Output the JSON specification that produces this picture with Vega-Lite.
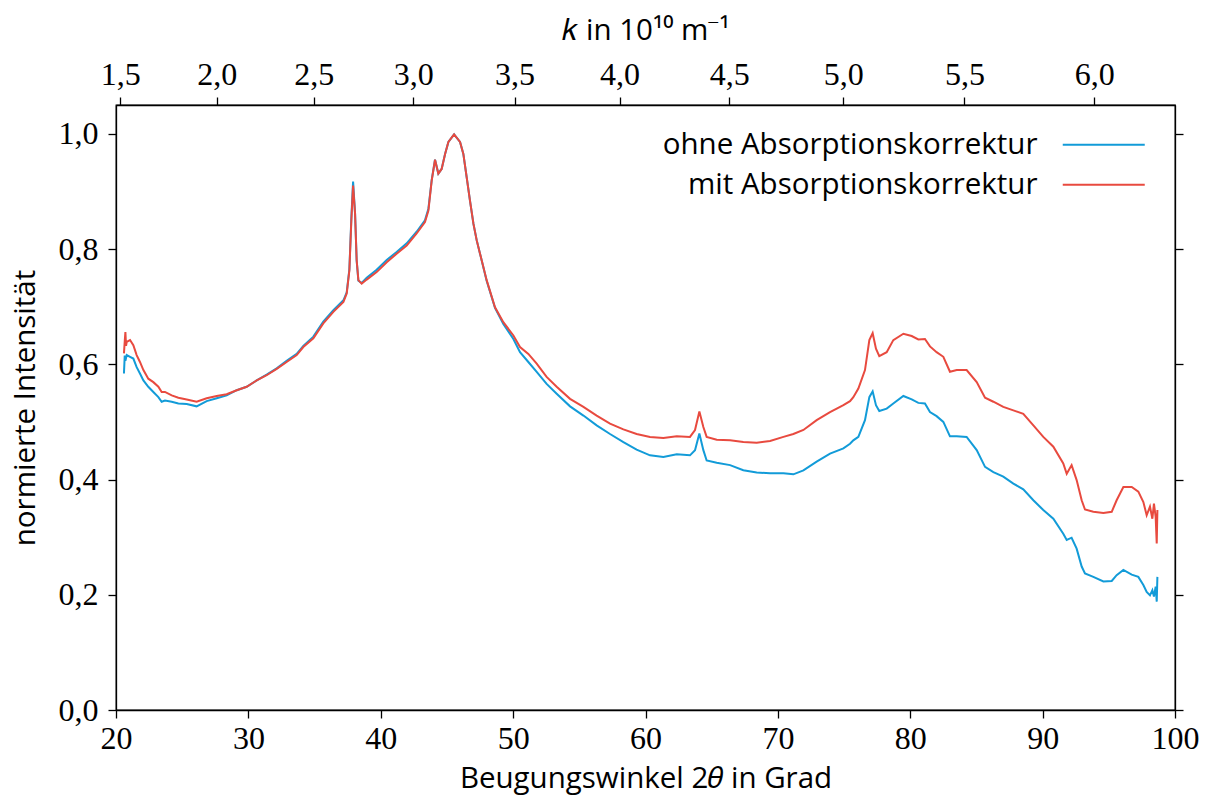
{
 "$schema": "https://vega.github.io/schema/vega-lite/v6.json",
 "width": 1059, "height": 605,
 "autosize": {"type": "none"},
 "padding": {"left": 116, "top": 105, "right": 34, "bottom": 89},
 "background": "white",
 "config": {
  "view": {"stroke": "black", "strokeWidth": 1.3},
  "axis": {"grid": false, "domainColor": "black", "tickColor": "black", "labelColor": "black", "titleColor": "black",
           "labelFont": "Liberation Serif", "labelFontSize": 32, "titleFont": "Open Sans", "titleFontSize": 29.5,
           "titleFontWeight": "normal", "tickSize": 8, "domainWidth": 1.3, "tickWidth": 1.3, "labelFlush": false}
 },
 "data": {"values": [
  {"s":"ohne","t":20.60,"v":0.584},{"s":"ohne","t":20.66,"v":0.615},{"s":"ohne","t":20.71,"v":0.606},{"s":"ohne","t":20.81,"v":0.616},
  {"s":"ohne","t":21.06,"v":0.613},{"s":"ohne","t":21.31,"v":0.610},{"s":"ohne","t":21.56,"v":0.595},{"s":"ohne","t":21.81,"v":0.584},
  {"s":"ohne","t":22.07,"v":0.572},{"s":"ohne","t":22.44,"v":0.561},{"s":"ohne","t":22.82,"v":0.552},{"s":"ohne","t":23.20,"v":0.543},
  {"s":"ohne","t":23.45,"v":0.535},{"s":"ohne","t":23.70,"v":0.537},{"s":"ohne","t":24.21,"v":0.535},{"s":"ohne","t":24.71,"v":0.532},
  {"s":"ohne","t":25.34,"v":0.531},{"s":"ohne","t":26.09,"v":0.527},{"s":"ohne","t":26.85,"v":0.536},{"s":"ohne","t":27.61,"v":0.541},
  {"s":"ohne","t":28.36,"v":0.546},{"s":"ohne","t":29.12,"v":0.555},{"s":"ohne","t":29.87,"v":0.561},{"s":"ohne","t":30.63,"v":0.572},
  {"s":"ohne","t":31.38,"v":0.582},{"s":"ohne","t":32.14,"v":0.593},{"s":"ohne","t":32.89,"v":0.606},{"s":"ohne","t":33.65,"v":0.618},
  {"s":"ohne","t":34.15,"v":0.632},{"s":"ohne","t":34.91,"v":0.648},{"s":"ohne","t":35.66,"v":0.674},{"s":"ohne","t":36.42,"v":0.694},
  {"s":"ohne","t":37.18,"v":0.711},{"s":"ohne","t":37.43,"v":0.725},{"s":"ohne","t":37.63,"v":0.765},{"s":"ohne","t":37.78,"v":0.855},
  {"s":"ohne","t":37.91,"v":0.917},{"s":"ohne","t":38.06,"v":0.862},{"s":"ohne","t":38.18,"v":0.780},{"s":"ohne","t":38.31,"v":0.745},
  {"s":"ohne","t":38.56,"v":0.741},{"s":"ohne","t":38.94,"v":0.750},{"s":"ohne","t":39.69,"v":0.764},{"s":"ohne","t":40.45,"v":0.781},
  {"s":"ohne","t":41.20,"v":0.795},{"s":"ohne","t":41.96,"v":0.810},{"s":"ohne","t":42.71,"v":0.830},{"s":"ohne","t":43.34,"v":0.850},
  {"s":"ohne","t":43.60,"v":0.870},{"s":"ohne","t":43.85,"v":0.920},{"s":"ohne","t":44.10,"v":0.955},{"s":"ohne","t":44.35,"v":0.931},
  {"s":"ohne","t":44.60,"v":0.939},{"s":"ohne","t":44.86,"v":0.965},{"s":"ohne","t":45.11,"v":0.986},{"s":"ohne","t":45.54,"v":0.999},
  {"s":"ohne","t":45.99,"v":0.986},{"s":"ohne","t":46.24,"v":0.965},{"s":"ohne","t":46.49,"v":0.925},{"s":"ohne","t":46.74,"v":0.884},
  {"s":"ohne","t":47.00,"v":0.844},{"s":"ohne","t":47.25,"v":0.815},{"s":"ohne","t":47.50,"v":0.792},{"s":"ohne","t":48.00,"v":0.745},
  {"s":"ohne","t":48.63,"v":0.698},{"s":"ohne","t":49.26,"v":0.670},{"s":"ohne","t":50.02,"v":0.644},{"s":"ohne","t":50.52,"v":0.621},
  {"s":"ohne","t":51.15,"v":0.604},{"s":"ohne","t":51.78,"v":0.587},{"s":"ohne","t":52.53,"v":0.566},{"s":"ohne","t":53.29,"v":0.549},
  {"s":"ohne","t":54.30,"v":0.527},{"s":"ohne","t":55.31,"v":0.511},{"s":"ohne","t":56.31,"v":0.494},{"s":"ohne","t":57.32,"v":0.479},
  {"s":"ohne","t":58.33,"v":0.465},{"s":"ohne","t":59.33,"v":0.452},{"s":"ohne","t":60.34,"v":0.442},{"s":"ohne","t":61.35,"v":0.439},
  {"s":"ohne","t":62.36,"v":0.444},{"s":"ohne","t":63.36,"v":0.442},{"s":"ohne","t":63.74,"v":0.451},{"s":"ohne","t":64.07,"v":0.480},
  {"s":"ohne","t":64.37,"v":0.451},{"s":"ohne","t":64.62,"v":0.433},{"s":"ohne","t":65.38,"v":0.429},{"s":"ohne","t":66.39,"v":0.425},
  {"s":"ohne","t":67.39,"v":0.416},{"s":"ohne","t":68.40,"v":0.412},{"s":"ohne","t":69.41,"v":0.411},{"s":"ohne","t":70.42,"v":0.411},
  {"s":"ohne","t":71.17,"v":0.409},{"s":"ohne","t":71.93,"v":0.416},{"s":"ohne","t":72.93,"v":0.431},{"s":"ohne","t":73.94,"v":0.445},
  {"s":"ohne","t":74.95,"v":0.454},{"s":"ohne","t":75.45,"v":0.462},{"s":"ohne","t":75.70,"v":0.468},{"s":"ohne","t":76.08,"v":0.474},
  {"s":"ohne","t":76.58,"v":0.503},{"s":"ohne","t":76.91,"v":0.543},{"s":"ohne","t":77.16,"v":0.553},{"s":"ohne","t":77.41,"v":0.529},
  {"s":"ohne","t":77.66,"v":0.519},{"s":"ohne","t":78.22,"v":0.523},{"s":"ohne","t":78.72,"v":0.532},{"s":"ohne","t":79.48,"v":0.545},
  {"s":"ohne","t":80.11,"v":0.539},{"s":"ohne","t":80.61,"v":0.533},{"s":"ohne","t":81.11,"v":0.532},{"s":"ohne","t":81.49,"v":0.517},
  {"s":"ohne","t":81.99,"v":0.510},{"s":"ohne","t":82.50,"v":0.500},{"s":"ohne","t":83.00,"v":0.475},{"s":"ohne","t":83.51,"v":0.475},
  {"s":"ohne","t":84.26,"v":0.474},{"s":"ohne","t":85.02,"v":0.451},{"s":"ohne","t":85.65,"v":0.422},{"s":"ohne","t":86.28,"v":0.413},
  {"s":"ohne","t":87.03,"v":0.405},{"s":"ohne","t":87.79,"v":0.393},{"s":"ohne","t":88.54,"v":0.383},{"s":"ohne","t":89.30,"v":0.364},
  {"s":"ohne","t":90.05,"v":0.347},{"s":"ohne","t":90.81,"v":0.332},{"s":"ohne","t":91.56,"v":0.306},{"s":"ohne","t":91.82,"v":0.295},
  {"s":"ohne","t":92.19,"v":0.299},{"s":"ohne","t":92.57,"v":0.280},{"s":"ohne","t":92.95,"v":0.249},{"s":"ohne","t":93.20,"v":0.237},
  {"s":"ohne","t":93.83,"v":0.231},{"s":"ohne","t":94.59,"v":0.223},{"s":"ohne","t":95.22,"v":0.224},{"s":"ohne","t":95.59,"v":0.234},
  {"s":"ohne","t":96.10,"v":0.243},{"s":"ohne","t":96.73,"v":0.235},{"s":"ohne","t":97.23,"v":0.231},{"s":"ohne","t":97.61,"v":0.217},
  {"s":"ohne","t":97.86,"v":0.205},{"s":"ohne","t":98.11,"v":0.199},{"s":"ohne","t":98.29,"v":0.208},{"s":"ohne","t":98.41,"v":0.197},
  {"s":"ohne","t":98.54,"v":0.214},{"s":"ohne","t":98.62,"v":0.188},{"s":"ohne","t":98.67,"v":0.231},
  {"s":"mit","t":20.60,"v":0.619},{"s":"mit","t":20.66,"v":0.640},{"s":"mit","t":20.71,"v":0.656},{"s":"mit","t":20.76,"v":0.632},
  {"s":"mit","t":20.81,"v":0.639},{"s":"mit","t":21.06,"v":0.642},{"s":"mit","t":21.31,"v":0.633},{"s":"mit","t":21.56,"v":0.616},
  {"s":"mit","t":21.81,"v":0.604},{"s":"mit","t":22.07,"v":0.590},{"s":"mit","t":22.44,"v":0.575},{"s":"mit","t":22.82,"v":0.569},
  {"s":"mit","t":23.20,"v":0.561},{"s":"mit","t":23.45,"v":0.552},{"s":"mit","t":23.70,"v":0.552},{"s":"mit","t":24.21,"v":0.546},
  {"s":"mit","t":24.71,"v":0.542},{"s":"mit","t":25.34,"v":0.539},{"s":"mit","t":26.09,"v":0.535},{"s":"mit","t":26.85,"v":0.541},
  {"s":"mit","t":27.61,"v":0.545},{"s":"mit","t":28.36,"v":0.548},{"s":"mit","t":29.12,"v":0.555},{"s":"mit","t":29.87,"v":0.561},
  {"s":"mit","t":30.63,"v":0.572},{"s":"mit","t":31.38,"v":0.581},{"s":"mit","t":32.14,"v":0.592},{"s":"mit","t":32.89,"v":0.604},
  {"s":"mit","t":33.65,"v":0.616},{"s":"mit","t":34.15,"v":0.630},{"s":"mit","t":34.91,"v":0.645},{"s":"mit","t":35.66,"v":0.671},
  {"s":"mit","t":36.42,"v":0.691},{"s":"mit","t":37.18,"v":0.708},{"s":"mit","t":37.43,"v":0.723},{"s":"mit","t":37.63,"v":0.763},
  {"s":"mit","t":37.78,"v":0.850},{"s":"mit","t":37.91,"v":0.910},{"s":"mit","t":38.06,"v":0.861},{"s":"mit","t":38.18,"v":0.781},
  {"s":"mit","t":38.31,"v":0.746},{"s":"mit","t":38.56,"v":0.740},{"s":"mit","t":38.94,"v":0.747},{"s":"mit","t":39.69,"v":0.760},
  {"s":"mit","t":40.45,"v":0.777},{"s":"mit","t":41.20,"v":0.792},{"s":"mit","t":41.96,"v":0.806},{"s":"mit","t":42.71,"v":0.827},
  {"s":"mit","t":43.34,"v":0.847},{"s":"mit","t":43.60,"v":0.867},{"s":"mit","t":43.85,"v":0.919},{"s":"mit","t":44.10,"v":0.955},
  {"s":"mit","t":44.35,"v":0.931},{"s":"mit","t":44.60,"v":0.939},{"s":"mit","t":44.86,"v":0.965},{"s":"mit","t":45.11,"v":0.986},
  {"s":"mit","t":45.54,"v":0.999},{"s":"mit","t":45.99,"v":0.986},{"s":"mit","t":46.24,"v":0.965},{"s":"mit","t":46.49,"v":0.925},
  {"s":"mit","t":46.74,"v":0.884},{"s":"mit","t":47.00,"v":0.844},{"s":"mit","t":47.25,"v":0.815},{"s":"mit","t":47.50,"v":0.792},
  {"s":"mit","t":48.00,"v":0.746},{"s":"mit","t":48.63,"v":0.699},{"s":"mit","t":49.26,"v":0.673},{"s":"mit","t":50.02,"v":0.650},
  {"s":"mit","t":50.52,"v":0.630},{"s":"mit","t":51.15,"v":0.618},{"s":"mit","t":51.78,"v":0.601},{"s":"mit","t":52.53,"v":0.578},
  {"s":"mit","t":53.29,"v":0.561},{"s":"mit","t":54.30,"v":0.540},{"s":"mit","t":55.31,"v":0.526},{"s":"mit","t":56.31,"v":0.511},
  {"s":"mit","t":57.32,"v":0.497},{"s":"mit","t":58.33,"v":0.487},{"s":"mit","t":59.33,"v":0.479},{"s":"mit","t":60.34,"v":0.474},
  {"s":"mit","t":61.35,"v":0.472},{"s":"mit","t":62.36,"v":0.475},{"s":"mit","t":63.36,"v":0.474},{"s":"mit","t":63.74,"v":0.486},
  {"s":"mit","t":64.07,"v":0.518},{"s":"mit","t":64.37,"v":0.491},{"s":"mit","t":64.62,"v":0.474},{"s":"mit","t":65.38,"v":0.469},
  {"s":"mit","t":66.39,"v":0.468},{"s":"mit","t":67.39,"v":0.465},{"s":"mit","t":68.40,"v":0.464},{"s":"mit","t":69.41,"v":0.467},
  {"s":"mit","t":70.42,"v":0.474},{"s":"mit","t":71.17,"v":0.479},{"s":"mit","t":71.93,"v":0.486},{"s":"mit","t":72.93,"v":0.503},
  {"s":"mit","t":73.94,"v":0.517},{"s":"mit","t":74.95,"v":0.529},{"s":"mit","t":75.45,"v":0.536},{"s":"mit","t":75.70,"v":0.543},
  {"s":"mit","t":76.08,"v":0.558},{"s":"mit","t":76.58,"v":0.590},{"s":"mit","t":76.91,"v":0.642},{"s":"mit","t":77.16,"v":0.654},
  {"s":"mit","t":77.41,"v":0.627},{"s":"mit","t":77.66,"v":0.614},{"s":"mit","t":78.22,"v":0.621},{"s":"mit","t":78.72,"v":0.642},
  {"s":"mit","t":79.48,"v":0.653},{"s":"mit","t":80.11,"v":0.649},{"s":"mit","t":80.61,"v":0.643},{"s":"mit","t":81.11,"v":0.644},
  {"s":"mit","t":81.49,"v":0.631},{"s":"mit","t":81.99,"v":0.621},{"s":"mit","t":82.50,"v":0.613},{"s":"mit","t":83.00,"v":0.587},
  {"s":"mit","t":83.51,"v":0.590},{"s":"mit","t":84.26,"v":0.590},{"s":"mit","t":85.02,"v":0.569},{"s":"mit","t":85.65,"v":0.542},
  {"s":"mit","t":86.28,"v":0.535},{"s":"mit","t":87.03,"v":0.526},{"s":"mit","t":87.79,"v":0.520},{"s":"mit","t":88.54,"v":0.514},
  {"s":"mit","t":89.30,"v":0.494},{"s":"mit","t":90.05,"v":0.474},{"s":"mit","t":90.81,"v":0.457},{"s":"mit","t":91.56,"v":0.428},
  {"s":"mit","t":91.82,"v":0.410},{"s":"mit","t":92.19,"v":0.425},{"s":"mit","t":92.57,"v":0.399},{"s":"mit","t":92.95,"v":0.364},
  {"s":"mit","t":93.20,"v":0.348},{"s":"mit","t":93.83,"v":0.344},{"s":"mit","t":94.59,"v":0.342},{"s":"mit","t":95.22,"v":0.344},
  {"s":"mit","t":95.59,"v":0.364},{"s":"mit","t":96.10,"v":0.387},{"s":"mit","t":96.73,"v":0.387},{"s":"mit","t":97.23,"v":0.379},
  {"s":"mit","t":97.61,"v":0.361},{"s":"mit","t":97.86,"v":0.338},{"s":"mit","t":98.11,"v":0.353},{"s":"mit","t":98.29,"v":0.332},
  {"s":"mit","t":98.41,"v":0.358},{"s":"mit","t":98.54,"v":0.335},{"s":"mit","t":98.62,"v":0.289},{"s":"mit","t":98.67,"v":0.347}
 ]},
 "layer": [
  {
   "mark": {"type": "line", "strokeWidth": 2},
   "encoding": {
    "x": {"field": "t", "type": "quantitative", "scale": {"domain": [20, 100], "nice": false},
          "axis": {"orient": "bottom", "values": [20, 30, 40, 50, 60, 70, 80, 90, 100], "labelPadding": 5,
                   "title": "Beugungswinkel 2𝜃 in Grad", "titlePadding": 10}},
    "y": {"field": "v", "type": "quantitative", "scale": {"domain": [0, 1.05], "nice": false},
          "axis": {"orient": "left", "values": [0, 0.2, 0.4, 0.6, 0.8, 1.0], "labelPadding": 10,
                   "labelExpr": "replace(format(datum.value, '.1f'), '.', ',')",
                   "title": "normierte Intensität", "titlePadding": 18}},
    "color": {"field": "s", "type": "nominal",
              "scale": {"domain": ["ohne", "mit"], "range": ["#129bd8", "#e84a3f"]},
              "legend": {"orient": "none", "legendX": 888, "legendY": 25, "title": null,
                         "labelExpr": "datum.label + ' Absorptionskorrektur'",
                         "labelAlign": "right", "labelFont": "Open Sans", "labelFontSize": 29.5, "labelColor": "black",
                         "labelLimit": 600, "symbolType": "M44,0H126", "symbolSize": 4, "symbolStrokeWidth": 2,
                         "rowPadding": 9, "padding": 0, "offset": 0}}
   }
  },
  {
   "mark": {"type": "line", "opacity": 0},
   "encoding": {
    "x": {"field": "t", "type": "quantitative", "scale": {"domain": [20, 100], "nice": false},
          "axis": {"orient": "top", "values": [20.33, 27.61, 34.93, 42.45, 50.11, 58.04, 66.33, 74.94, 84.09, 93.90],
                   "labelPadding": 6,
                   "labelExpr": "replace(format(4 * PI * sin((datum.value + 0.75) * PI / 360) / 1.5406, '.1f'), '.', ',')",
                   "title": "𝑘 in 10¹⁰ m⁻¹", "titlePadding": 13}},
    "y": {"field": "v", "type": "quantitative", "scale": {"domain": [0, 1.05], "nice": false},
          "axis": {"orient": "right", "values": [0, 0.2, 0.4, 0.6, 0.8, 1.0], "labels": false, "title": null}},
    "detail": {"field": "s", "type": "nominal"}
   }
  }
 ],
 "resolve": {"scale": {"x": "independent", "y": "independent"}, "axis": {"x": "independent", "y": "independent"}}
}
